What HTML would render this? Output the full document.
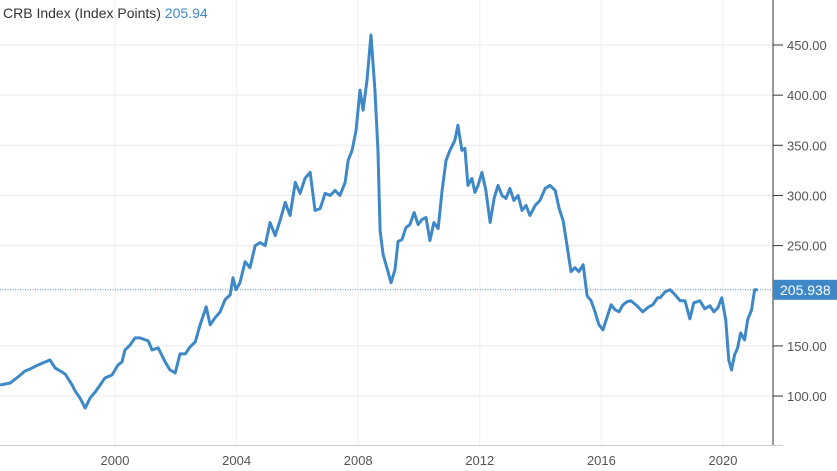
<!DOCTYPE html>
<html><head><meta charset="utf-8"><style>
body{margin:0;background:#fff;font-family:"Liberation Sans",sans-serif}
#c{position:relative;width:837px;height:471px;overflow:hidden}
.t{position:absolute;left:3px;top:5px;font-size:14px;color:#333}
.t span{color:#3f88c8}
</style></head><body>
<div id="c">
<div class="t">CRB Index (Index Points) <span>205.94</span></div>
<svg id="s" width="837" height="471" style="position:absolute;left:0;top:0"></svg>
</div>
<script>
const dates=[1996.22,1996.55,1996.81,1997.04,1997.21,1997.47,1997.70,1997.86,1998.03,1998.36,1998.59,1998.69,1998.85,1999.02,1999.18,1999.35,1999.51,1999.67,1999.90,2000.10,2000.23,2000.33,2000.50,2000.66,2000.82,2001.09,2001.22,2001.42,2001.65,2001.81,2001.98,2002.14,2002.31,2002.47,2002.64,2002.80,2003.00,2003.13,2003.29,2003.46,2003.62,2003.79,2003.88,2003.98,2004.11,2004.28,2004.44,2004.61,2004.77,2004.94,2005.10,2005.27,2005.43,2005.60,2005.76,2005.93,2006.09,2006.25,2006.42,2006.58,2006.75,2006.91,2007.08,2007.24,2007.40,2007.57,2007.67,2007.80,2007.93,2008.06,2008.16,2008.29,2008.42,2008.55,2008.65,2008.72,2008.82,2008.98,2009.08,2009.21,2009.31,2009.44,2009.57,2009.70,2009.84,2009.97,2010.10,2010.23,2010.36,2010.49,2010.63,2010.76,2010.89,2011.02,2011.18,2011.28,2011.41,2011.51,2011.61,2011.74,2011.84,2011.94,2012.07,2012.20,2012.34,2012.47,2012.60,2012.73,2012.86,2012.99,2013.12,2013.26,2013.39,2013.52,2013.65,2013.82,2013.98,2014.15,2014.31,2014.48,2014.61,2014.74,2014.87,2015.00,2015.13,2015.26,2015.40,2015.53,2015.66,2015.79,2015.92,2016.05,2016.18,2016.32,2016.45,2016.58,2016.71,2016.84,2016.97,2017.17,2017.36,2017.56,2017.69,2017.85,2017.93,2018.10,2018.26,2018.42,2018.59,2018.75,2018.91,2019.04,2019.24,2019.40,2019.57,2019.70,2019.83,2019.96,2020.09,2020.19,2020.28,2020.38,2020.48,2020.58,2020.71,2020.81,2020.94,2021.04,2021.14];
const values=[111,113,119,125,127,131,134,136,128,122,111,105,98,88,98,104,111,118,121,131,134,146,151,158,158,155,146,148,134,126,123,142,142,149,154,171,189,171,178,184,196,201,218,206,213,234,228,250,253,250,273,260,275,293,280,313,302,317,323,285,287,302,300,305,300,313,335,345,365,405,385,415,460,405,345,265,241,224,213,226,254,256,268,271,283,271,276,278,255,273,267,305,335,345,355,370,345,347,310,317,303,310,323,305,273,297,310,300,297,307,295,300,285,290,280,290,295,307,310,305,287,275,250,224,228,224,231,200,195,184,171,166,178,191,186,184,191,194,195,190,184,189,191,198,198,204,206,201,195,195,177,193,195,187,190,184,188,198,176,136,126,141,148,163,156,176,186,206,206];
const yTicks=[100,150,200,250,300,350,400,450];
const yTickLabels=["100.00","150.00","200.00","250.00","300.00","350.00","400.00","450.00"];
const xTicks=[2000,2004,2008,2012,2016,2020];
const lastValue=205.938;
const X=d=>115+(d-2000)*30.4, Y=v=>45+(450-v)*1.003;
const s=document.getElementById('s'),NS='http://www.w3.org/2000/svg';
function mk(t,a,p){const e=document.createElementNS(NS,t);for(const k in a)e.setAttribute(k,a[k]);(p||s).appendChild(e);return e;}
yTicks.forEach((v,i)=>{
 if(v===200)return;
 const g=mk('line',{x1:0,x2:773,y1:Y(v),y2:Y(v),stroke:'#ebebeb'});
 
 
 const tk=mk('line',{x1:773,x2:783,y1:Y(v),y2:Y(v),stroke:'#333'});
 
 
 const t=mk('text',{x:787,y:Y(v)+5,'font-size':13,fill:'#555','font-family':'Liberation Sans'});
 t.textContent=yTickLabels[i];
 
 
});
xTicks.forEach(d=>{
 const g=mk('line',{x1:X(d),x2:X(d),y1:0,y2:445,stroke:'#eef0f4'});
 
 
 const t=mk('text',{x:X(d),y:465,'font-size':13,fill:'#555','text-anchor':'middle','font-family':'Liberation Sans'});
 t.textContent=d;
 
 
});
const ax=mk('line',{x1:773,x2:773,y1:0,y2:446,stroke:'#333'});


const bx=mk('line',{x1:0,x2:783,y1:445.5,y2:445.5,stroke:'#ccc'});


const dl=mk('line',{x1:0,x2:773,y1:Y(lastValue),y2:Y(lastValue),stroke:'#3f88c8','stroke-dasharray':'1,1.5','stroke-width':0.8});


const ln=mk('polyline',{points:dates.map((d,i)=>X(d)+','+Y(values[i])).join(' '),fill:'none',stroke:'#3f88c8','stroke-width':3,'stroke-linejoin':'round'});


const bg=mk('rect',{x:773,y:Y(lastValue)-10,width:64,height:20,fill:'#3f88c8'});


const bt=mk('text',{x:780,y:Y(lastValue)+5,'font-size':14,fill:'#fff','font-family':'Liberation Sans'});
bt.textContent=lastValue.toFixed(3);


</script>
</body></html>
